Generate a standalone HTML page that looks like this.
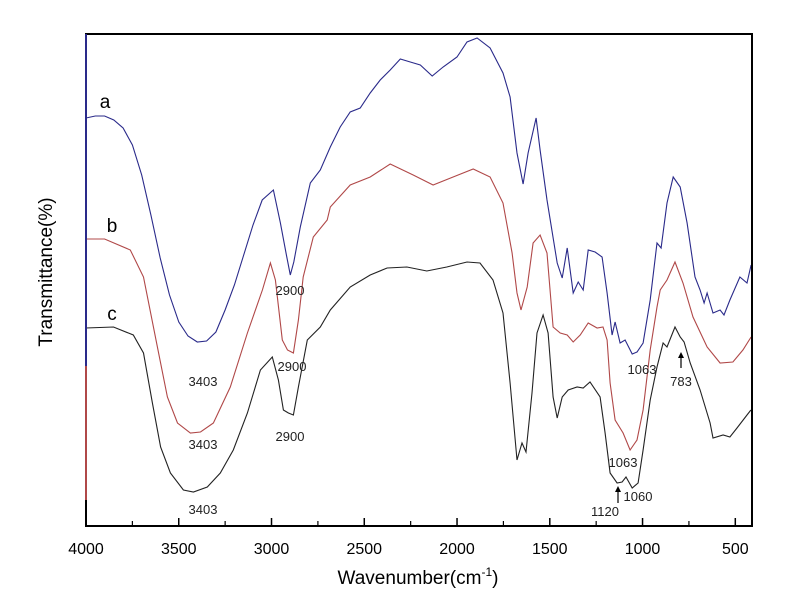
<!DOCTYPE html>
<html><head><meta charset="utf-8"><style>
html,body{margin:0;padding:0;background:#fff;}
svg{display:block;font-family:"Liberation Sans",Arial,sans-serif;}
</style></head><body>
<svg id="chart" width="800" height="604" viewBox="0 0 800 604">
<g id="plot"></g>
</svg>
<script>
const xTicks=[4000,3500,3000,2500,2000,1500,1000,500];
const xMinor=[3750,3250,2750,2250,1750,1250,750];
const wnA=[4000,3950,3900,3850,3800,3750,3700,3650,3600,3550,3500,3450,3400,3350,3300,3250,3200,3150,3100,3050,2990,2952,2920,2899,2880,2845,2791,2737,2683,2630,2576,2522,2468,2414,2360,2306,2252,2198,2134,2075,2000,1946,1892,1822,1752,1714,1677,1644,1617,1574,1552,1515,1460,1433,1406,1374,1347,1320,1293,1256,1218,1191,1164,1148,1121,1094,1056,1030,997,959,922,900,868,835,797,760,717,690,668,652,620,582,561,529,475,437,415];
const tA=[408,410,410,406,398,381,351,311,268,231,204,190,184,185,194,216,241,271,301,326,336,303,271,251,264,299,343,356,379,399,414,418,433,446,456,467,464,461,450,459,469,484,488,478,453,429,373,342,373,408,376,326,263,248,278,233,244,236,276,274,269,233,191,204,183,186,172,174,183,226,283,278,323,349,339,303,249,236,223,233,213,216,211,226,249,243,261];
const wnB=[4000,3900,3761,3690,3615,3561,3507,3437,3383,3313,3222,3130,3049,3006,2979,2942,2914,2882,2855,2829,2775,2700,2683,2576,2468,2360,2236,2129,2021,1913,1822,1752,1703,1677,1655,1622,1590,1552,1515,1482,1444,1406,1374,1336,1293,1245,1213,1191,1175,1148,1105,1067,1030,997,959,922,905,868,825,782,728,652,582,513,459,415];
const tB=[287,287,276,249,179,129,103,93,94,103,139,193,236,263,246,186,176,173,206,249,289,306,319,341,349,362,351,341,349,357,349,323,273,233,216,239,283,291,273,199,193,191,184,191,203,198,199,186,143,106,93,76,86,116,176,219,236,246,264,243,209,179,163,164,176,189];
const wnC=[4000,3852,3745,3690,3642,3598,3545,3475,3421,3346,3276,3206,3130,3060,2996,2963,2936,2909,2882,2855,2807,2737,2683,2576,2468,2377,2270,2163,2055,1946,1876,1806,1752,1714,1677,1650,1628,1596,1569,1536,1509,1482,1460,1433,1401,1353,1320,1283,1229,1202,1175,1137,1110,1089,1056,1024,997,959,922,889,868,825,797,776,743,690,636,620,566,529,491,437,416];
const tC=[198,199,191,173,123,79,53,36,34,39,53,76,113,156,169,146,116,113,111,139,186,199,216,239,251,258,259,255,259,264,263,246,213,143,66,83,74,133,193,211,193,129,108,129,136,139,138,144,129,93,53,43,44,49,38,43,76,126,159,183,179,199,189,184,163,136,103,88,91,89,98,111,116];
const labels=[["3403",203,381],["2900",290,290],["2900",292,366],["3403",203,444],["2900",290,436],["3403",203,509],["1063",642,369],["783",681,381],["1063",623,462],["1060",638,496],["1120",605,511]];
const L=86,R=752,T=34,B=526;
function xs(w){return L+(4000-w)*(R-L)/(4000-410);}
function ys(v){return B-v;}
const NS="http://www.w3.org/2000/svg";
const g=document.getElementById('plot');
function mk(tag,attrs,parent){const e=document.createElementNS(NS,tag);for(const k in attrs)e.setAttribute(k,attrs[k]);(parent||g).appendChild(e);return e;}
function series(wn,t,color,name,start){
 let d='M'+L+','+start+' L'+L+','+ys(t[0]).toFixed(1);
 for(let i=0;i<wn.length;i++)d+=' L'+xs(wn[i]).toFixed(1)+','+ys(t[i]).toFixed(1);
 const p=mk('path',{d:d,fill:'none',stroke:color,'stroke-width':1.1});
 
 
}
series(wnC,tC,'#222','series-c',B);
series(wnB,tB,'#b04848','series-b',500);
series(wnA,tA,'#2a2a8a','series-a',T);
const frame=mk('rect',{x:L,y:T,width:R-L,height:B-T,fill:'none',stroke:'#000','stroke-width':2});


mk('line',{x1:L,y1:T,x2:L,y2:366,stroke:'#2a2a8a','stroke-width':2});
mk('line',{x1:L,y1:366,x2:L,y2:500,stroke:'#b04848','stroke-width':2});
xTicks.forEach(w=>{
 const x=xs(w);
 mk('line',{x1:x,y1:B,x2:x,y2:B-8,stroke:'#000','stroke-width':1.5});
 const t=mk('text',{x:x,y:554,'text-anchor':'middle','font-size':16,fill:'#000'});
 t.textContent=w;
 
 
});
xMinor.forEach(w=>{const x=xs(w);mk('line',{x1:x,y1:B,x2:x,y2:B-5,stroke:'#000','stroke-width':1.2});});
labels.forEach(l=>{
 const t=mk('text',{x:l[1],y:l[2]+5,'text-anchor':'middle','font-size':13,fill:'#222'});
 t.textContent=l[0];
 
 
});
[[681,368,352],[618,503,486]].forEach(a=>{
 mk('line',{x1:a[0],y1:a[1],x2:a[0],y2:a[2]+5,stroke:'#000','stroke-width':1.2});
 mk('path',{d:`M${a[0]-3},${a[2]+6} L${a[0]+3},${a[2]+6} L${a[0]},${a[2]} Z`,fill:'#000'});
});
[["a",105,108],["b",112,232],["c",112,320]].forEach(l=>{
 const t=mk('text',{x:l[1],y:l[2],'text-anchor':'middle','font-size':19,fill:'#000'});
 t.textContent=l[0];
 
 
});
const xt=mk('text',{x:418,y:584,'text-anchor':'middle','font-size':19,fill:'#000'});
xt.innerHTML='Wavenumber(cm<tspan font-size="12" dy="-8">-1</tspan><tspan dy="8">)</tspan>';


const yt=mk('text',{x:0,y:0,'text-anchor':'middle','font-size':19,fill:'#000',transform:'translate(52,272) rotate(-90)'});
yt.textContent='Transmittance(%)';


</script>
</body></html>
